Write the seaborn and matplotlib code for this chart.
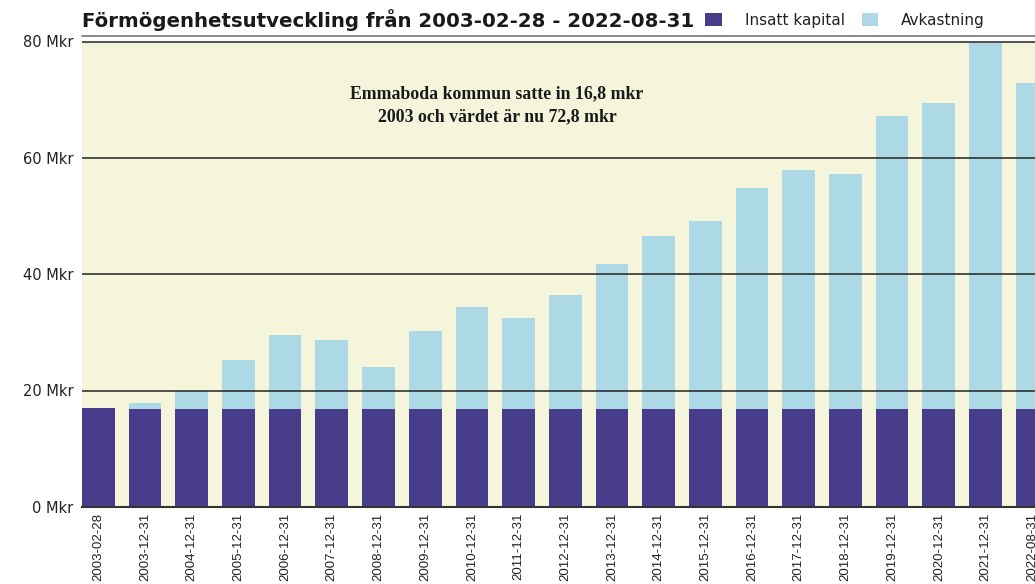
import matplotlib
matplotlib.use("Agg")
import matplotlib.pyplot as plt
import seaborn as sns
import pandas as pd
from matplotlib.patches import Patch
from matplotlib.lines import Line2D

dates = ["2003-02-28", "2003-12-31", "2004-12-31", "2005-12-31", "2006-12-31",
         "2007-12-31", "2008-12-31", "2009-12-31", "2010-12-31", "2011-12-31",
         "2012-12-31", "2013-12-31", "2014-12-31", "2015-12-31", "2016-12-31",
         "2017-12-31", "2018-12-31", "2019-12-31", "2020-12-31", "2021-12-31",
         "2022-08-31"]
insatt = [17.0, 16.8, 16.8, 16.8, 16.8, 16.8, 16.8, 16.8, 16.8, 16.8, 16.8,
          16.8, 16.8, 16.8, 16.8, 16.8, 16.8, 16.8, 16.8, 16.8, 16.8]
totalt = [17.0, 17.8, 20.0, 25.2, 29.5, 28.6, 24.1, 30.2, 34.3, 32.4, 36.4,
          41.7, 46.6, 49.1, 54.7, 57.9, 57.1, 67.1, 69.3, 84.0, 72.8]
yticks = [0, 20, 40, 60, 80]
ytick_labels = ["0 Mkr", "20 Mkr", "40 Mkr", "60 Mkr", "80 Mkr"]

title = "Förmögenhetsutveckling från 2003-02-28 - 2022-08-31"
legend_labels = ["Insatt kapital", "Avkastning"]
note = "Emmaboda kommun satte in 16,8 mkr\n2003 och värdet är nu 72,8 mkr"

purple = "#483D8B"
lblue = "#ADD8E6"
bg = "#F5F5DC"

sns.set_theme(style="white")
plt.rcParams["font.family"] = ["DejaVu Sans"]

df = pd.DataFrame({"datum": dates, "insatt": insatt, "totalt": totalt})

fig = plt.figure(figsize=(10.35, 5.84), dpi=100)
W, H = 1035, 584
ax = fig.add_axes([82 / W, (H - 507) / H, 1 - 82 / W, (507 - 41) / H])
ax.set_facecolor(bg)

sns.barplot(data=df, x="datum", y="totalt", color=lblue, width=0.7,
            saturation=1, ax=ax, zorder=2, linewidth=0)
sns.barplot(data=df, x="datum", y="insatt", color=purple, width=0.7,
            saturation=1, ax=ax, zorder=2, linewidth=0)

ax.set_xlim(-0.35, 20.06)
ax.set_ylim(0, 80)
ax.set_yticks(yticks)
ax.set_yticklabels(ytick_labels, fontsize=10.5, color="#222222")
ax.tick_params(axis="y", length=0, pad=6)
ax.tick_params(axis="x", length=0, pad=4, rotation=90, labelsize=9.5,
               labelcolor="#222222")
for lab in ax.get_xticklabels():
    lab.set_family("Liberation Sans")
ax.set_xlabel("")
ax.set_ylabel("")
for sp in ["top", "right", "left"]:
    ax.spines[sp].set_visible(False)
ax.spines["bottom"].set_color("#333333")
ax.spines["bottom"].set_linewidth(1.5)
ax.spines["bottom"].set_zorder(6)

for yv in yticks[1:]:
    ax.axhline(yv, color="#222222", lw=1.1, zorder=5)
# double line at top
fig.add_artist(Line2D([82 / W, 1.0], [(H - 35.5) / H] * 2, color="#777777", lw=1.2))
ax.axhline(80, color="#555555", lw=2.2, zorder=5)

ax.text(0.4355, 0.862, note, transform=ax.transAxes, ha="center", va="center",
        fontsize=12.8, fontweight="bold", family="Liberation Serif",
        color="#1a1a1a", linespacing=1.45, zorder=7)

fig.text(82 / W, 1 - 20 / H, title, ha="left", va="center", fontsize=14.2,
         fontweight="bold", family="DejaVu Sans", color="#1a1a1a")

handles = [Patch(facecolor=purple, edgecolor="none"),
           Patch(facecolor=lblue, edgecolor="none")]
fig.legend(handles, legend_labels, ncol=2, loc="center left",
           bbox_to_anchor=(705 / W, 1 - 20 / H), frameon=False, fontsize=11,
           handlelength=1.1, handleheight=0.9, handletextpad=1.5,
           columnspacing=1.1, labelcolor="#222222", borderpad=0, borderaxespad=0)

fig.savefig("out.png", dpi=100, facecolor="white")
